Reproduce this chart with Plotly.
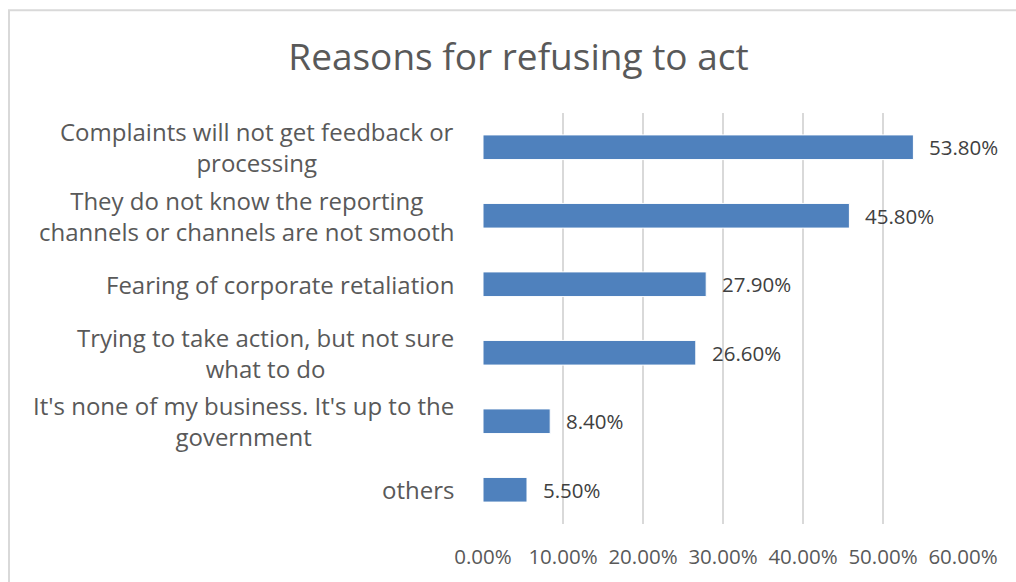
import plotly.graph_objects as go

categories = [
    "Complaints will not get feedback or<br>processing",
    "They do not know the reporting<br>channels or channels are not smooth",
    "Fearing of corporate retaliation",
    "Trying to take action, but not sure<br>what to do",
    "It's none of my business. It's up to the<br>government",
    "others",
]
values = [0.538, 0.458, 0.279, 0.266, 0.084, 0.055]
x_ticks = [0, 0.1, 0.2, 0.3, 0.4, 0.5, 0.6]

FONT = "Open Sans"
TXT = "#595959"

# plot area in pixels
L, R, T, B = 483, 963, 113, 529
W, H = 1016, 582

fig = go.Figure()
fig.add_trace(go.Bar(
    y=categories, x=values, orientation="h",
    marker=dict(color="#4F81BD", line=dict(color="#FFFFFF", width=1)),
    hoverinfo="skip",
))

annotations = []
# data labels
for c, v in zip(categories, values):
    annotations.append(dict(
        x=v, y=c, xref="x", yref="y", text=f"{v*100:.2f}%",
        xanchor="left", yanchor="middle", xshift=14, showarrow=False,
        font=dict(family=FONT, size=20.5, color="#404040"),
    ))
# category labels (centered lines, right-aligned block)
for c in categories:
    annotations.append(dict(
        x=(456 - L) / (R - L), y=c, xref="paper", yref="y", text=c,
        xanchor="right", yanchor="middle", align="center",
        showarrow=False, font=dict(family=FONT, size=24, color=TXT),
    ))

fig.add_shape(type="rect", xref="paper", yref="paper",
              x0=(9 - L) / (R - L), x1=(W + 10 - L) / (R - L),
              y0=(B - (H + 10)) / (B - T), y1=(B - 9) / (B - T),
              line=dict(color="#D9D9D9", width=2), fillcolor="rgba(0,0,0,0)", layer="below")

fig.update_layout(
    width=W, height=H,
    margin=dict(l=L, r=W - R, t=T, b=H - B),
    paper_bgcolor="white", plot_bgcolor="white",
    showlegend=False,
    bargap=0.64,
    annotations=annotations,
    title=dict(text="Reasons for refusing to act", x=518.5 / W, xanchor="center",
               y=1 - 57 / H, yanchor="middle",
               font=dict(family=FONT, size=37, color=TXT)),
    xaxis=dict(range=[0, 0.6], tickvals=x_ticks, tickformat=".2%",
               showgrid=True, gridcolor="#D9D9D9", gridwidth=1.5,
               zeroline=False, showline=False, ticks="",
               ticklabelstandoff=18,
               tickfont=dict(family=FONT, size=20.5, color=TXT)),
    yaxis=dict(autorange="reversed", showticklabels=False, showgrid=False,
               zeroline=False, showline=False, ticks=""),
)

fig.write_html("out.html")
